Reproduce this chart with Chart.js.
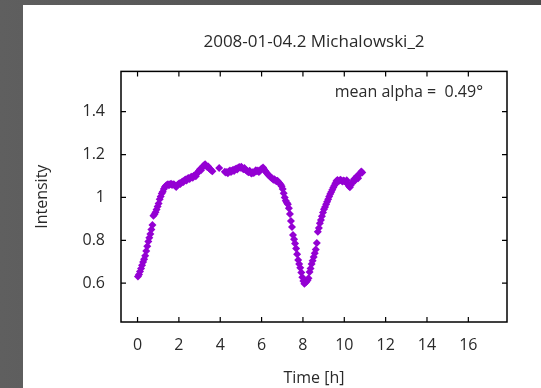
<!DOCTYPE html>
<html>
<head>
<meta charset="utf-8">
<script src="https://cdn.jsdelivr.net/npm/chart.js@4"></script>
<style>
  html, body { margin: 0; padding: 0; }
  body {
    width: 541px; height: 388px; overflow: hidden;
    background: linear-gradient(to right, #5f5f5f, #4a4a4a);
    position: relative;
  }
  #panel {
    position: absolute; left: 23px; top: 5px;
    width: 518px; height: 383px; background: #fff;
  }
</style>
</head>
<body>
<div id="panel"><canvas id="curve" width="518" height="383"></canvas></div>
<script>
const chartTitle = '2008-01-04.2 Michalowski_2';
const meanAlphaLabel = 'mean alpha =  0.49\u00b0';

// time in hours
const timeH = [
  0.02, 0.07, 0.12, 0.17, 0.22, 0.27, 0.32, 0.37, 0.42, 0.47, 0.52, 0.57, 0.62, 0.67, 0.72, 0.77, 0.82, 0.87, 0.92, 0.97,
  1.02, 1.07, 1.12, 1.17, 1.22, 1.27, 1.32, 1.37, 1.42, 1.47, 1.52, 1.57, 1.62, 1.67, 1.72, 1.77, 1.82, 1.87, 1.92, 1.97,
  2.02, 2.07, 2.12, 2.17, 2.22, 2.27, 2.32, 2.37, 2.42, 2.47, 2.52, 2.57, 2.62, 2.67, 2.72, 2.77, 2.82, 2.87, 2.92, 2.97,
  3.02, 3.07, 3.12, 3.17, 3.22, 3.27, 3.32, 3.37, 3.42, 3.47, 3.52, 3.57, 3.62,
  3.95, 4.22, 4.27, 4.32, 4.37, 4.42, 4.47, 4.52, 4.57, 4.62, 4.67, 4.72, 4.77, 4.82, 4.87, 4.92, 4.97,
  5.02, 5.07, 5.12, 5.17, 5.22, 5.27, 5.32, 5.37, 5.42, 5.47, 5.52, 5.57, 5.62, 5.67, 5.72, 5.77, 5.82, 5.87, 5.92, 5.97,
  6.02, 6.07, 6.12, 6.17, 6.22, 6.27, 6.32, 6.37, 6.42, 6.47, 6.52, 6.57, 6.62, 6.67, 6.72, 6.77, 6.82, 6.87, 6.92, 6.97,
  7.02, 7.07, 7.12, 7.17, 7.22, 7.27, 7.32, 7.37, 7.42, 7.47, 7.52, 7.57, 7.62, 7.67, 7.72, 7.77, 7.82, 7.87, 7.92, 7.97,
  8.02, 8.07, 8.12, 8.17, 8.22, 8.27, 8.32, 8.37, 8.42, 8.47, 8.52, 8.57, 8.62, 8.67, 8.72, 8.77, 8.82, 8.87, 8.92, 8.97,
  9.02, 9.07, 9.12, 9.17, 9.22, 9.27, 9.32, 9.37, 9.42, 9.47, 9.52, 9.57, 9.62, 9.67, 9.72, 9.77, 9.82, 9.87, 9.92, 9.97,
  10.02, 10.07, 10.12, 10.17, 10.22, 10.27, 10.32, 10.37, 10.42, 10.47, 10.52, 10.57, 10.62, 10.67, 10.72, 10.77, 10.82, 10.87
];

// normalised intensity
const intensity = [
  0.631, 0.640, 0.655, 0.668, 0.684, 0.699, 0.712, 0.728, 0.750, 0.772, 0.795, 0.812, 0.830, 0.851, 0.872, 0.915, 0.922, 0.931, 0.944, 0.958,
  0.972, 0.992, 1.004, 1.018, 1.027, 1.040, 1.049, 1.055, 1.058, 1.062, 1.057, 1.061, 1.064, 1.058, 1.062, 1.060, 1.054, 1.049, 1.057, 1.061,
  1.066, 1.063, 1.070, 1.074, 1.072, 1.080, 1.084, 1.079, 1.088, 1.091, 1.086, 1.094, 1.097, 1.092, 1.101, 1.104, 1.099, 1.110, 1.118, 1.124,
  1.131, 1.127, 1.138, 1.146, 1.150, 1.155, 1.148, 1.142, 1.144, 1.135, 1.131, 1.126, 1.122,
  1.137, 1.120, 1.116, 1.119, 1.113, 1.121, 1.126, 1.119, 1.124, 1.129, 1.123, 1.131, 1.135, 1.130, 1.138, 1.142, 1.139,
  1.143, 1.136, 1.132, 1.137, 1.129, 1.126, 1.121, 1.118, 1.124, 1.115, 1.112, 1.118, 1.114, 1.120, 1.127, 1.122, 1.126, 1.119, 1.125, 1.131,
  1.135, 1.140, 1.132, 1.124, 1.117, 1.112, 1.106, 1.101, 1.097, 1.092, 1.088, 1.083, 1.085, 1.079, 1.076, 1.078, 1.071, 1.066, 1.060, 1.052,
  1.040, 1.020, 1.000, 0.985, 0.975, 0.968, 0.950, 0.923, 0.890, 0.862, 0.825, 0.805, 0.785, 0.762, 0.735, 0.708, 0.690, 0.672, 0.650, 0.628,
  0.610, 0.598, 0.603, 0.607, 0.614, 0.623, 0.652, 0.668, 0.690, 0.705, 0.722, 0.740, 0.757, 0.787, 0.840, 0.858, 0.880, 0.895, 0.912, 0.930,
  0.945, 0.955, 0.968, 0.980, 0.992, 1.005, 1.016, 1.026, 1.036, 1.046, 1.056, 1.066, 1.077, 1.081, 1.075, 1.079, 1.083, 1.078, 1.074, 1.079,
  1.076, 1.072, 1.080, 1.063, 1.053, 1.047, 1.058, 1.066, 1.074, 1.085, 1.079, 1.093, 1.100, 1.090, 1.107, 1.112, 1.121, 1.116
];

const xTickStep = 2;
const yTickStep = 0.2;

const points = timeH.map((t, i) => ({ x: t, y: intensity[i] }));
const textColor = '#2a2a2a';
const fontFamily = '"Open Sans", "Noto Sans", sans-serif';

// closed frame with inward ticks on all four sides, plus the mean-alpha note
const framePlugin = {
  id: 'frame',
  afterDatasetsDraw(chart) {
    const { ctx, chartArea: a, scales } = chart;
    ctx.save();
    ctx.strokeStyle = '#000';
    ctx.lineWidth = 1.5;
    ctx.strokeRect(a.left, a.top, a.right - a.left, a.bottom - a.top);
    ctx.lineWidth = 1.2;
    ctx.beginPath();
    scales.x.ticks.forEach(tk => {
      const px = scales.x.getPixelForValue(tk.value);
      ctx.moveTo(px, a.bottom); ctx.lineTo(px, a.bottom - 5);
      ctx.moveTo(px, a.top); ctx.lineTo(px, a.top + 5);
    });
    scales.y.ticks.forEach(tk => {
      const py = scales.y.getPixelForValue(tk.value);
      ctx.moveTo(a.left, py); ctx.lineTo(a.left + 5, py);
      ctx.moveTo(a.right, py); ctx.lineTo(a.right - 5, py);
    });
    ctx.stroke();

    ctx.fillStyle = textColor;
    ctx.font = '16px ' + fontFamily;
    ctx.textAlign = 'right';
    ctx.textBaseline = 'middle';
    ctx.fillText(meanAlphaLabel, a.right - 24, a.top + 21);
    ctx.restore();
  }
};

new Chart(document.getElementById('curve'), {
  type: 'scatter',
  data: {
    datasets: [{
      label: 'Intensity',
      data: points,
      pointStyle: 'rectRot',
      pointRadius: 4,
      pointBorderWidth: 0,
      backgroundColor: '#9400d3',
      borderColor: '#9400d3'
    }]
  },
  options: {
    responsive: false,
    animation: false,
    layout: { padding: { left: 0, right: 34, top: 0, bottom: 0 } },
    plugins: {
      legend: { display: false },
      tooltip: { enabled: false },
      title: {
        display: true,
        fullSize: false,
        text: chartTitle,
        color: textColor,
        font: { family: fontFamily, size: 17, weight: 'normal', lineHeight: 1.2 },
        padding: { top: 27, bottom: 19 }
      }
    },
    scales: {
      x: {
        type: 'linear',
        min: -0.8,
        max: 17.87,
        grid: { display: false, drawTicks: false },
        border: { display: false },
        ticks: {
          stepSize: xTickStep,
          includeBounds: false,
          padding: 14,
          maxRotation: 0,
          color: textColor,
          font: { family: fontFamily, size: 16 }
        },
        title: {
          display: true,
          text: 'Time [h]',
          color: textColor,
          font: { family: fontFamily, size: 16, lineHeight: 1.2 },
          padding: { top: 0, bottom: 0 }
        },
        afterFit(scale) { scale.height = 66; }
      },
      y: {
        type: 'linear',
        min: 0.419,
        max: 1.588,
        grid: { display: false, drawTicks: false },
        border: { display: false },
        ticks: {
          stepSize: yTickStep,
          includeBounds: false,
          padding: 16,
          color: textColor,
          font: { family: fontFamily, size: 16 },
          callback: v => String(+v.toFixed(2))
        },
        title: {
          display: true,
          text: 'Intensity',
          color: textColor,
          font: { family: fontFamily, size: 16, lineHeight: 1.2 },
          padding: { top: 10, bottom: 0 }
        },
        afterFit(scale) { scale.width = 98; }
      }
    }
  },
  plugins: [framePlugin]
});
</script>
</body>
</html>
